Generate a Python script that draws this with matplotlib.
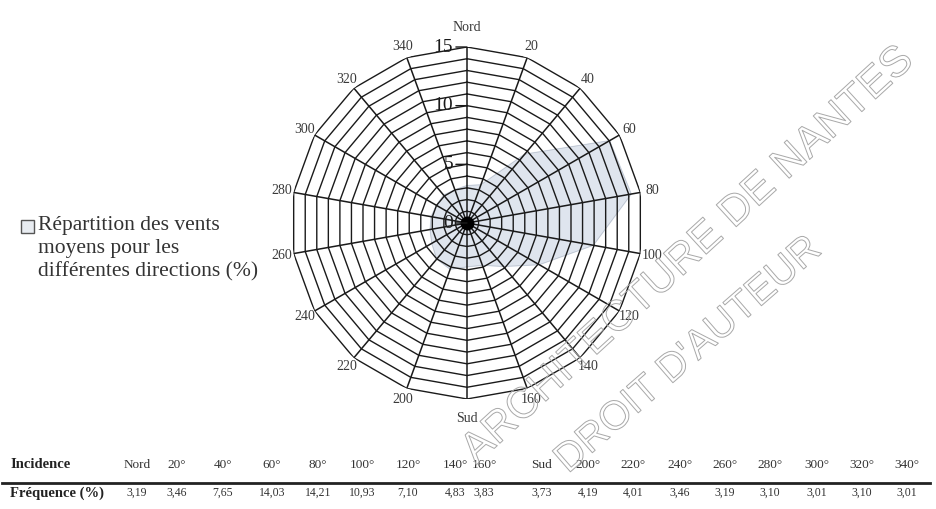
import numpy as np
import matplotlib
matplotlib.use("Agg")
import matplotlib.pyplot as plt
import matplotlib.patheffects as pe
from matplotlib.lines import Line2D
from matplotlib.patches import Rectangle

# ── data ──────────────────────────────────────────────────────────────────────
incidence = ["Nord", "20°", "40°", "60°", "80°", "100°", "120°", "140°", "160°",
             "Sud", "200°", "220°", "240°", "260°", "280°", "300°", "320°", "340°"]
angles_deg = [0, 20, 40, 60, 80, 100, 120, 140, 160,
              180, 200, 220, 240, 260, 280, 300, 320, 340]
frequence = [3.19, 3.46, 7.65, 14.03, 14.21, 10.93, 7.10, 4.83, 3.83,
             3.73, 4.19, 4.01, 3.46, 3.19, 3.10, 3.01, 3.10, 3.01]
angle_labels = ["Nord", "20", "40", "60", "80", "100", "120", "140", "160",
                "Sud", "200", "220", "240", "260", "280", "300", "320", "340"]
ring_values = list(range(1, 16))
radial_ticks = [0, 5, 10, 15]
legend_text = "Répartition des vents\nmoyens pour les\ndifférentes directions (%)"

# ── layout ────────────────────────────────────────────────────────────────────
W, H = 937, 509
CX, CY, RAD = 467, 223, 176          # centre / radius of the rose in pixels
FILL_COLOR = "#dfe5ee"
SERIF = ["Liberation Serif", "DejaVu Serif"]
# column centres of the table (pixels)
COL_X = [137, 177, 223, 272, 318, 362, 408, 455, 484,
         542, 588, 633, 680, 725, 770, 817, 862, 907]

plt.rcParams["font.family"] = SERIF

fig = plt.figure(figsize=(W / 100, H / 100), dpi=100)
fig.patch.set_facecolor("white")

ax = fig.add_axes([(CX - RAD) / W, (H - CY - RAD) / H, 2 * RAD / W, 2 * RAD / H],
                  projection="polar")
ax.set_theta_zero_location("N")
ax.set_theta_direction(-1)
ax.set_ylim(0, 15)
ax.grid(False)
ax.set_xticks([])
ax.set_yticks([])
ax.spines["polar"].set_visible(False)
ax.patch.set_alpha(0)

theta = np.deg2rad(angles_deg)
theta_c = np.append(theta, theta[0])

# filled data polygon
vals_c = np.append(frequence, frequence[0])
ax.fill(theta_c, vals_c, color=FILL_COLOR, zorder=1)
ax.plot(theta_c, vals_c, color="#b8c0cc", lw=0.5, zorder=1.5)

# polygonal rings
for r in ring_values:
    ax.plot(theta_c, np.full_like(theta_c, r), color="#1a1a1a", lw=1.0, zorder=2)

# spokes
for t in theta:
    ax.plot([t, t], [0, 15], color="#1a1a1a", lw=1.1, zorder=2)

ax.plot([0], [0], marker="o", ms=9, color="black", zorder=4)

# direction labels
for t, lab in zip(theta, angle_labels):
    rr = 16.7 if lab in ("Nord", "Sud") else 16.0
    ax.text(t, rr, lab, ha="center", va="center", fontsize=10, color="#3a3a3a")

# radial scale labels on the north spoke
for rt in radial_ticks:
    ax.annotate(str(rt), xy=(0, rt), xytext=(-10, 0), textcoords="offset points",
                ha="right", va="center", fontsize=14, color="#1a1a1a",
                arrowprops=dict(arrowstyle="-", lw=1.0, color="#1a1a1a",
                                shrinkA=0, shrinkB=0), zorder=5)

# legend
fig.add_artist(Rectangle((21 / W, 1 - 233 / H), 13 / W, 13 / H,
                         transform=fig.transFigure, facecolor="#e8ecf1",
                         edgecolor="#555555", lw=1.0))
fig.text(38 / W, 1 - 249 / H, legend_text, ha="left", va="center",
         fontsize=15.5, color="#333333", linespacing=1.3)

# table
fig.text(10 / W, 1 - 465 / H, "Incidence", ha="left", va="center",
         fontsize=10.5, fontweight="bold", color="#222222")
fig.text(10 / W, 1 - 493 / H, "Fréquence (%)", ha="left", va="center",
         fontsize=10.5, fontweight="bold", color="#222222")
for x, lab, v in zip(COL_X, incidence, frequence):
    fig.text(x / W, 1 - 465 / H, lab, ha="center", va="center",
             fontsize=9.5, color="#333333")
    fig.text(x / W, 1 - 493 / H, f"{v:.2f}".replace(".", ","), ha="center",
             va="center", fontsize=8.5, color="#333333")
fig.add_artist(Line2D([2 / W, 930 / W], [1 - 483 / H, 1 - 483 / H],
                      transform=fig.transFigure, color="#222222", lw=2.0))

# watermark
stroke = [pe.Stroke(linewidth=0.7, foreground="#a8a8a8")]
fig.text(688 / W, 1 - 256 / H, "ARCHITECTURE DE NANTES", ha="center", va="center",
         rotation=42.5, rotation_mode="anchor", fontsize=31, color="none",
         family=["Liberation Sans", "DejaVu Sans"], path_effects=stroke)
fig.text(688 / W, 1 - 355 / H, "DROIT D'AUTEUR", ha="center", va="center",
         rotation=41, rotation_mode="anchor", fontsize=29, color="none",
         family=["Liberation Sans", "DejaVu Sans"], path_effects=stroke)

fig.savefig("out.png", dpi=100, facecolor="white")
